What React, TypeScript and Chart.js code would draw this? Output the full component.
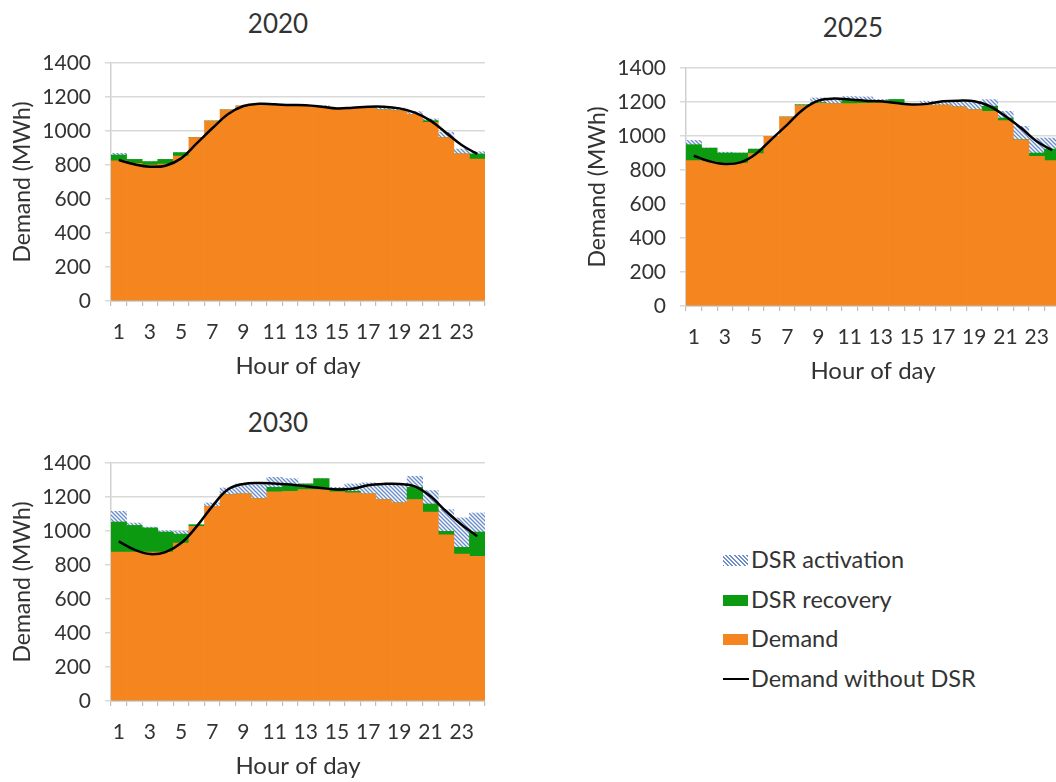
import React, { useEffect, useRef } from 'react';
import { Chart, registerables } from 'chart.js';

Chart.register(...registerables);

// ---------- data ----------
const HOURS = ['1', '2', '3', '4', '5', '6', '7', '8', '9', '10', '11', '12', '13', '14', '15', '16', '17', '18', '19', '20', '21', '22', '23', '24'];

const DEMAND_2020 = [825, 810, 800, 806, 853, 961, 1059, 1124, 1147, 1151, 1150, 1150, 1148, 1145, 1135, 1135, 1137, 1125, 1120, 1098, 1051, 961, 865, 835];
const RECOVERY_2020 = [34, 23, 20, 27, 20, 0, 0, 0, 0, 0, 0, 0, 0, 0, 0, 0, 0, 0, 0, 0, 10, 0, 0, 30];
const ACTIVATION_2020 = [10, 0, 0, 0, 0, 0, 0, 0, 0, 5, 5, 0, 0, 5, 0, 0, 5, 14, 15, 16, 10, 31, 29, 13];
const NO_DSR_2020 = [829, 804, 790, 796, 839, 927, 1016, 1098, 1147, 1160, 1157, 1153, 1151, 1143, 1133, 1137, 1143, 1143, 1133, 1108, 1061, 990, 918, 865];

const DEMAND_2025 = [855, 850, 841, 841, 896, 998, 1112, 1179, 1192, 1190, 1190, 1192, 1195, 1190, 1180, 1180, 1182, 1171, 1155, 1145, 1090, 978, 880, 855];
const RECOVERY_2025 = [94, 79, 59, 59, 27, 0, 0, 5, 5, 0, 22, 18, 12, 25, 5, 0, 0, 0, 0, 30, 16, 0, 20, 68];
const ACTIVATION_2025 = [25, 0, 5, 0, 0, 0, 0, 0, 27, 30, 20, 20, 8, 0, 0, 25, 22, 33, 49, 39, 39, 79, 88, 65];
const NO_DSR_2025 = [884, 851, 835, 845, 896, 982, 1067, 1155, 1208, 1220, 1214, 1208, 1204, 1194, 1185, 1189, 1204, 1208, 1204, 1175, 1116, 1047, 969, 916];

const DEMAND_2030 = [876, 876, 876, 876, 929, 1027, 1145, 1214, 1218, 1191, 1230, 1234, 1244, 1244, 1230, 1224, 1218, 1185, 1165, 1185, 1112, 978, 864, 851];
const RECOVERY_2030 = [177, 157, 142, 118, 53, 10, 0, 0, 0, 0, 27, 33, 33, 64, 20, 10, 0, 0, 0, 72, 47, 20, 40, 143];
const ACTIVATION_2030 = [63, 14, 5, 8, 16, 0, 20, 39, 59, 82, 59, 41, 0, 0, 7, 43, 65, 88, 112, 65, 79, 128, 173, 112];
const NO_DSR_2030 = [939, 890, 864, 876, 929, 1027, 1145, 1244, 1277, 1283, 1279, 1273, 1263, 1253, 1244, 1248, 1269, 1277, 1277, 1263, 1204, 1116, 1037, 969];

const Y_TICKS_MIN = 0;
const Y_TICKS_MAX = 1400;
const Y_TICKS_STEP = 200;

const SERIES_NAMES = ['DSR activation', 'DSR recovery', 'Demand', 'Demand without DSR'];

// ---------- styles ----------
const FONT = 'Lato, "Open Sans", sans-serif';
const TEXT = '#333333';
const ORANGE = '#F5861F';
const GREEN = '#0C9A10';
const HATCH_LINE = '#6C8FCC';

function makeHatch(): CanvasPattern | string {
  const c = document.createElement('canvas');
  const s = 4;
  c.width = s;
  c.height = s;
  const g = c.getContext('2d');
  if (!g) return '#9db4e0';
  g.fillStyle = '#ffffff';
  g.fillRect(0, 0, s, s);
  g.strokeStyle = HATCH_LINE;
  g.lineWidth = 1.4;
  g.beginPath();
  for (const off of [-s, 0, s]) {
    g.moveTo(-2, -2 + off);
    g.lineTo(s + 2, s + 2 + off);
  }
  g.stroke();
  const p = g.createPattern(c, 'repeat');
  return p || '#9db4e0';
}

type PanelProps = {
  demand: number[];
  recovery: number[];
  activation: number[];
  noDsr: number[];
  left: number;
  top: number;
  width: number;
  height: number;
  padTop: number;
  padRight: number;
};

function Panel(props: PanelProps) {
  const ref = useRef<HTMLCanvasElement | null>(null);
  useEffect(() => {
    if (!ref.current) return;
    const hatch = makeHatch();
    const barCommon = {
      type: 'bar' as const,
      stack: 'bars',
      order: 1,
      barPercentage: 1,
      categoryPercentage: 1,
      borderWidth: 0,
    };
    const chart = new Chart(ref.current, {
      type: 'bar',
      data: {
        labels: HOURS,
        datasets: [
          { ...barCommon, label: SERIES_NAMES[2], data: props.demand, backgroundColor: ORANGE },
          { ...barCommon, label: SERIES_NAMES[1], data: props.recovery, backgroundColor: GREEN },
          { ...barCommon, label: SERIES_NAMES[0], data: props.activation, backgroundColor: hatch as any },
          {
            type: 'line',
            label: SERIES_NAMES[3],
            data: props.noDsr,
            borderColor: '#000000',
            borderWidth: 2.5,
            pointRadius: 0,
            tension: 0.4,
            fill: false,
            stack: 'line',
            order: 0,
          } as any,
        ],
      },
      options: {
        responsive: false,
        animation: false,
        devicePixelRatio: 1,
        layout: { padding: { top: props.padTop, right: props.padRight, bottom: 0, left: 0 } },
        plugins: {
          legend: { display: false },
          tooltip: { enabled: false },
          title: { display: false },
        },
        scales: {
          x: {
            stacked: true,
            offset: true,
            grid: {
              display: true,
              drawOnChartArea: false,
              drawTicks: true,
              tickLength: 5,
              offset: true,
              color: '#bfbfbf',
              lineWidth: 1.2,
            },
            border: { display: true, color: '#bfbfbf', width: 1.5 },
            ticks: {
              autoSkip: false,
              maxRotation: 0,
              minRotation: 0,
              padding: 14,
              color: TEXT,
              font: { family: FONT, size: 21 },
              callback: (_v: any, i: number) => (i % 2 === 0 ? HOURS[i] : ''),
            },
            title: {
              display: true,
              text: 'Hour of day',
              color: TEXT,
              font: { family: FONT, size: 24 },
              padding: 0,
            },
            afterFit: (s: any) => {
              s.height = 80;
            },
          },
          y: {
            stacked: true,
            min: Y_TICKS_MIN,
            max: Y_TICKS_MAX,
            ticks: {
              stepSize: Y_TICKS_STEP,
              padding: 14,
              color: TEXT,
              font: { family: FONT, size: 21 },
              callback: (v: any) => String(v),
            },
            grid: { color: '#d9d9d9', lineWidth: 1.5, tickLength: 6, drawTicks: true },
            border: { display: true, color: '#d0d0d0', width: 1.5 },
            title: {
              display: true,
              text: 'Demand (MWh)',
              color: TEXT,
              font: { family: FONT, size: 23 },
              padding: { top: 9, bottom: 0 },
            },
            afterFit: (s: any) => {
              s.width = 111;
            },
          },
        },
      } as any,
    });
    return () => chart.destroy();
  }, []);
  return (
    <canvas
      ref={ref}
      width={props.width}
      height={props.height}
      style={{ position: 'absolute', left: props.left, top: props.top, width: props.width, height: props.height }}
    />
  );
}

function Title({ text, cx, cy }: { text: string; cx: number; cy: number }) {
  return (
    <div
      style={{
        position: 'absolute',
        left: cx,
        top: cy,
        transform: 'translate(-50%, -50%)',
        fontFamily: FONT,
        fontSize: 26,
        lineHeight: 1,
        color: TEXT,
        whiteSpace: 'nowrap',
      }}
    >
      {text}
    </div>
  );
}

function Legend() {
  const rows = [
    { name: SERIES_NAMES[0], cy: 560, kind: 'hatch' },
    { name: SERIES_NAMES[1], cy: 600, kind: 'green' },
    { name: SERIES_NAMES[2], cy: 639, kind: 'orange' },
    { name: SERIES_NAMES[3], cy: 679, kind: 'line' },
  ];
  return (
    <>
      {rows.map((r) => {
        let sw: React.CSSProperties;
        if (r.kind === 'line') {
          sw = { position: 'absolute', left: 723, top: r.cy - 1, width: 26, height: 2, background: '#000' };
        } else {
          sw = {
            position: 'absolute',
            left: 723,
            top: r.cy - 5,
            width: 25,
            height: 11,
            background:
              r.kind === 'hatch'
                ? `repeating-linear-gradient(45deg, ${HATCH_LINE} 0px, ${HATCH_LINE} 1.4px, #ffffff 1.4px, #ffffff 3px)`
                : r.kind === 'green'
                ? GREEN
                : ORANGE,
          };
        }
        return (
          <React.Fragment key={r.name}>
            <div style={sw} />
            <div
              style={{
                position: 'absolute',
                left: 751,
                top: r.cy,
                transform: 'translateY(-50%)',
                fontFamily: FONT,
                fontSize: 23.5,
                lineHeight: 1,
                color: TEXT,
                whiteSpace: 'nowrap',
              }}
            >
              {r.name}
            </div>
          </React.Fragment>
        );
      })}
    </>
  );
}

export default function App() {
  return (
    <div
      style={{
        position: 'absolute',
        left: 0,
        top: 0,
        width: 1056,
        height: 782,
        overflow: 'hidden',
        background: '#ffffff',
      }}
    >
      <Title text="2020" cx={278} cy={23} />
      <Title text="2025" cx={853} cy={27} />
      <Title text="2030" cx={278} cy={422} />
      <Panel
        demand={DEMAND_2020}
        recovery={RECOVERY_2020}
        activation={ACTIVATION_2020}
        noDsr={NO_DSR_2020}
        left={0}
        top={0}
        width={520}
        height={381}
        padTop={63}
        padRight={35}
      />
      <Panel
        demand={DEMAND_2025}
        recovery={RECOVERY_2025}
        activation={ACTIVATION_2025}
        noDsr={NO_DSR_2025}
        left={575}
        top={0}
        width={520}
        height={386}
        padTop={68}
        padRight={35}
      />
      <Panel
        demand={DEMAND_2030}
        recovery={RECOVERY_2030}
        activation={ACTIVATION_2030}
        noDsr={NO_DSR_2030}
        left={0}
        top={400}
        width={520}
        height={381}
        padTop={63}
        padRight={35}
      />
      <Legend />
    </div>
  );
}
